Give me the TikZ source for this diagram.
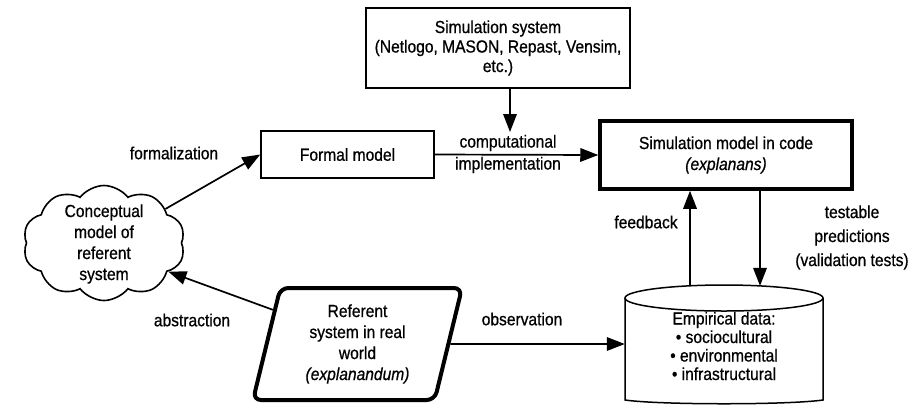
\documentclass[tikz,border=0pt]{standalone}
\usepackage{fontspec}
\setmainfont{Liberation Sans}[FakeStretch=0.89, FakeBold=0.7]
\usetikzlibrary{shapes.geometric,shapes.symbols,arrows.meta,calc}

\begin{document}
\begin{tikzpicture}[x=1pt,y=-1pt,
  every node/.style={font=\fontsize{17.5}{21}\selectfont, align=center, inner sep=0pt},
  box/.style={draw, line width=1.5pt, rectangle},
  heavybox/.style={draw, line width=3.5pt, rectangle},
  link/.style={line width=1.7pt, -{Triangle[length=18pt,width=13.5pt]}},
  thinline/.style={line width=1.5pt}]
\useasboundingbox[fill=white] (0,0) rectangle (917,408);

% boxes
\node[box, minimum width=264, minimum height=80,
      font=\fontsize{17.5}{19.5}\selectfont] (simsys) at (498,48)
  {Simulation system\\(Netlogo, MASON, Repast, Vensim,\\etc.)};
\node[box, minimum width=173, minimum height=47] (formal) at (347.5,154.5) {Formal model};
\node[heavybox, minimum width=252, minimum height=68] (code) at (726,155)
  {Simulation model in code\\\textit{(explanans)}};

% conceptual model cloud
\node[draw, cloud, cloud puffs=10, cloud puff arc=105, aspect=1.4,
      minimum width=162, minimum height=115, line width=1.6pt] (cloud) at (104,243) {};
\node (cloudtext) at (104,244) {Conceptual\\model of\\referent\\system};

% referent system (parallelogram)
\node[draw, trapezium, trapezium left angle=71, trapezium right angle=109,
      trapezium stretches body, minimum width=209, minimum height=112,
      line width=4pt, rounded corners=8pt] (ref) at (357.5,344)
  {Referent\\system in real\\world\\\textit{(explanandum)}};

% empirical data cylinder
\node[minimum width=198, minimum height=118] (data) at (724,344) {};
\draw[thinline] (724,298) ellipse [x radius=99, y radius=13];
\draw[thinline] (625,298) -- (625,400) .. controls (660,405) and (788,405) .. (823,400) -- (823,298);
\node[font=\fontsize{17.5}{18.5}\selectfont] (datatext) at (724,346)
  {Empirical data:\\• sociocultural\\• environmental\\• infrastructural};

% connectors
\coordinate (impl) at (510,132);
\draw[link] (simsys.south -| impl) -- (impl);
\draw[link] (formal.east) -- (code.west);
\draw[link] (cloud.29) -- (formal.west);
\draw[link] (ref.158) -- (cloud.336);
\draw[link] (ref.east) -- (data.west);
\coordinate (fbfoot) at (690,285.8);
\draw[link] (fbfoot) -- (fbfoot |- code.south);
\coordinate (tpfoot) at (760,285.9);
\draw[link] (tpfoot |- code.south) -- (tpfoot);

% labels
\node[font=\fontsize{17.5}{22}\selectfont] (lcomp) at (508,154) {computational\\implementation};
\node (lform) at (174,153) {formalization};
\node (labs) at (192,320) {abstraction};
\node (lobs) at (522,319) {observation};
\node (lfb) at (646,222) {feedback};
\node[font=\fontsize{17.5}{24}\selectfont] (ltest) at (852,237.5)
  {testable\\predictions\\(validation tests)};
\end{tikzpicture}
\end{document}
